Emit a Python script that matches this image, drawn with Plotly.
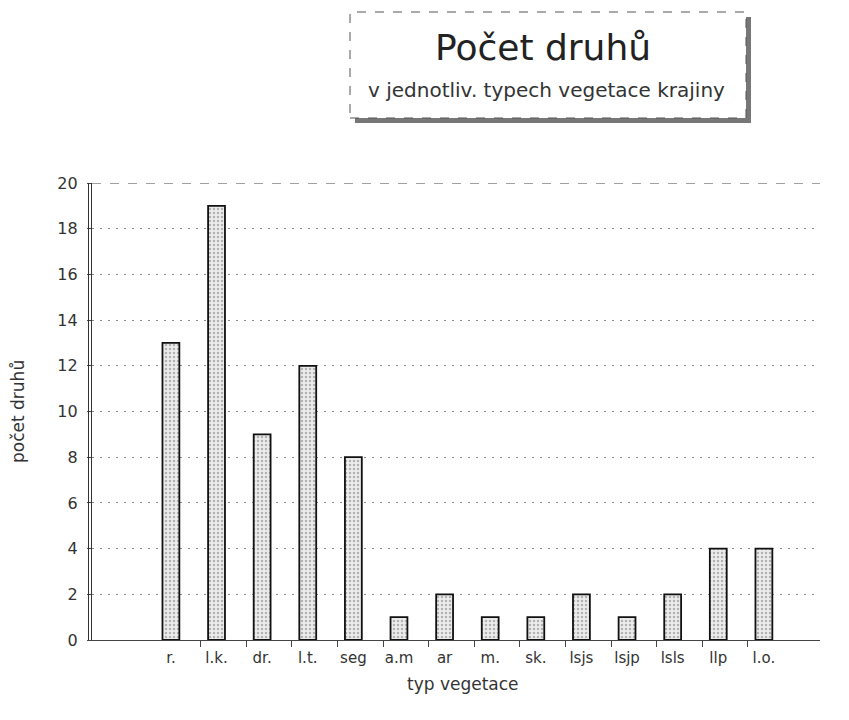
import plotly.graph_objects as go

categories = ["r.", "l.k.", "dr.", "l.t.", "seg", "a.m", "ar", "m.", "sk.", "lsjs", "lsjp", "lsls", "llp", "l.o."]
values = [13, 19, 9, 12, 8, 1, 2, 1, 1, 2, 1, 2, 4, 4]
y_ticks = list(range(0, 21, 2))

OFF = 8  # page body margin
FW, FH = 849 - OFF, 720 - OFF
# plot area in reference pixels
L, R, T, B = 92, 820, 183, 640
W, H = R - L, B - T
def px(x):
    return (x - L) / W
def py(y):
    return (B - y) / H

xpos = list(range(len(categories)))
font = "DejaVu Sans, Verdana, sans-serif"
txt = "#333333"

fig = go.Figure()
fig.add_trace(go.Bar(
    x=xpos, y=values, width=0.37,
    marker=dict(color="#eeeeee",
                line=dict(color="#111111", width=1.8),
                pattern=dict(shape=".", fgcolor="#777777", bgcolor="#ececec", size=4, solidity=0.3)),
    showlegend=False, hoverinfo="x+y",
))

fig.update_layout(
    width=FW, height=FH,
    margin=dict(l=L - OFF, r=849 - R, t=T - OFF, b=FH - (B - OFF)),
    paper_bgcolor="white", plot_bgcolor="white",
    font=dict(family=font, color=txt, size=15),
    xaxis=dict(
        range=[-1.73, 14.23], tickmode="array", tickvals=xpos, ticktext=categories,
        ticks="", showgrid=False, zeroline=False,
        showline=True, linecolor="#444444", linewidth=1.2,
        tickfont=dict(size=15, color=txt), ticklabelstandoff=4,
        minor=dict(tickmode="array", tickvals=[i + 0.65 for i in range(len(categories) - 1)],
                   ticks="outside", ticklen=6, tickcolor="#444444", showgrid=False),
    ),
    yaxis=dict(
        range=[0, 20], tickmode="array", tickvals=y_ticks,
        ticks="outside", ticklen=4, tickcolor="#444444",
        showgrid=True, gridcolor="#888888", griddash="2px,6px", gridwidth=1.2,
        zeroline=False, showline=True, linecolor="#333333", linewidth=1.2,
        tickfont=dict(size=16, color=txt), ticklabelstandoff=6,
    ),
)

shapes = []
# title box shadow
shapes.append(dict(type="rect", xref="paper", yref="paper",
                   x0=px(355), x1=px(751), y0=py(123), y1=py(17),
                   fillcolor="#777777", line=dict(width=0), layer="above"))
# title box
shapes.append(dict(type="rect", xref="paper", yref="paper",
                   x0=px(350), x1=px(746), y0=py(118), y1=py(12),
                   fillcolor="white", line=dict(color="#555555", width=1, dash="dash"), layer="above"))
# top border dashed
shapes.append(dict(type="line", xref="paper", yref="y", x0=0, x1=1, y0=20, y1=20,
                   line=dict(color="#444444", width=1.2, dash="dash")))
# doubled y axis line
shapes.append(dict(type="line", xref="paper", yref="y", x0=px(88.5), x1=px(88.5), y0=0, y1=20,
                   line=dict(color="#333333", width=1)))
fig.update_layout(shapes=shapes)

fig.add_annotation(text="Počet druhů", xref="paper", yref="paper", x=px(543), y=py(47),
                   xanchor="center", yanchor="middle",
                   showarrow=False, font=dict(size=36, color="#222222", family=font))
fig.add_annotation(text="v jednotliv. typech vegetace krajiny", xref="paper", yref="paper",
                   x=px(546), y=py(90), xanchor="center", yanchor="middle",
                   showarrow=False, font=dict(size=20, color="#333333", family=font))
fig.add_annotation(text="počet druhů", xref="paper", yref="paper", x=px(18), y=py(412),
                   xanchor="center", yanchor="middle",
                   textangle=-90, showarrow=False, font=dict(size=17, color=txt, family=font))
fig.add_annotation(text="typ vegetace", xref="paper", yref="paper", x=px(463), y=py(684),
                   xanchor="center", yanchor="middle",
                   showarrow=False, font=dict(size=17, color=txt, family=font))

fig.write_html("out.html")
